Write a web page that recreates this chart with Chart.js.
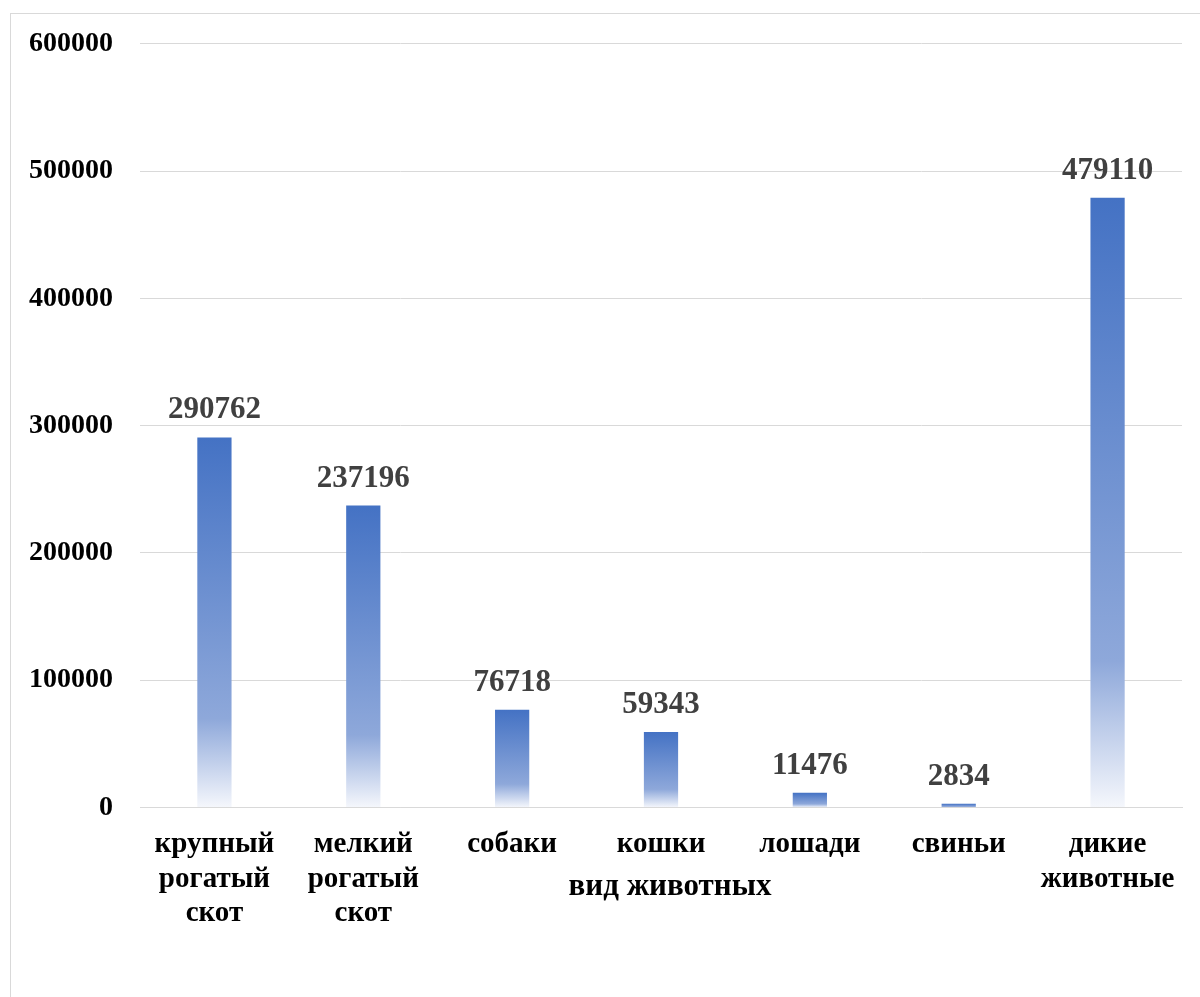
<!DOCTYPE html>
<html lang="ru">
<head>
    <meta charset="UTF-8">
    <title>Вид животных</title>
    <script src="https://cdn.jsdelivr.net/npm/chart.js@4"></script>
    <style>
        body {
            margin: 0;
            background-color: #fff;
            overflow: hidden;
        }

        .frame {
            position: absolute;
            left: 10px;
            top: 13px;
            width: 1200px;
            height: 1000px;
            border: 1px solid #d9d9d9;
        }

        .chart-container {
            position: absolute;
            left: 0;
            top: 0;
            width: 1200px;
            height: 997px;
        }
    </style>
</head>
<body>
    <div class="frame"></div>
    <div class="chart-container">
        <canvas id="myChart"></canvas>
    </div>
    <script>
        const categories = [
            ['крупный', 'рогатый', 'скот'],
            ['мелкий', 'рогатый', 'скот'],
            'собаки',
            'кошки',
            'лошади',
            'свиньи',
            ['дикие', 'животные']
        ];
        const counts = [290762, 237196, 76718, 59343, 11476, 2834, 479110];
        const axisTitle = 'вид животных';

        const serif = '"Liberation Serif", "Times New Roman", serif';

        // each bar fades from solid blue at its top to near white at the base
        function barGradient(context) {
            const chart = context.chart;
            if (!chart.chartArea || !chart.scales.y) return '#4472C4';
            const y = chart.scales.y;
            const top = y.getPixelForValue(context.raw);
            const bottom = y.getPixelForValue(0);
            if (bottom - top < 1) return '#4472C4';
            const g = chart.ctx.createLinearGradient(0, top, 0, bottom);
            g.addColorStop(0, '#4472C4');
            g.addColorStop(0.76, '#8EA8DA');
            g.addColorStop(1, '#F5F7FC');
            return g;
        }

        const valueLabels = {
            id: 'valueLabels',
            afterDatasetsDraw(chart) {
                const ctx = chart.ctx;
                const meta = chart.getDatasetMeta(0);
                ctx.save();
                ctx.font = 'bold 31px ' + serif;
                ctx.fillStyle = '#404040';
                ctx.textAlign = 'center';
                ctx.textBaseline = 'alphabetic';
                meta.data.forEach((bar, i) => {
                    ctx.fillText(String(counts[i]), bar.x, bar.y - 19);
                });
                ctx.restore();
            }
        };

        // axis title sits right over the second row of category labels
        const xTitle = {
            id: 'xTitle',
            afterDraw(chart) {
                const ctx = chart.ctx;
                const area = chart.chartArea;
                ctx.save();
                ctx.font = 'bold 31px ' + serif;
                ctx.fillStyle = '#000';
                ctx.textAlign = 'center';
                ctx.textBaseline = 'alphabetic';
                ctx.fillText(axisTitle, (area.left + area.right) / 2 + 9, area.bottom + 88);
                ctx.restore();
            }
        };

        const ctx = document.getElementById('myChart').getContext('2d');
        new Chart(ctx, {
            type: 'bar',
            data: {
                labels: categories,
                datasets: [{
                    data: counts,
                    backgroundColor: barGradient,
                    borderWidth: 0,
                    barPercentage: 0.46,
                    categoryPercentage: 0.5
                }]
            },
            options: {
                responsive: true,
                maintainAspectRatio: false,
                animation: false,
                layout: {
                    padding: { left: 2, right: 18, top: 29, bottom: 54 }
                },
                plugins: {
                    legend: { display: false },
                    tooltip: { enabled: false }
                },
                scales: {
                    x: {
                        grid: { display: false },
                        border: { color: '#d9d9d9', width: 1 },
                        ticks: {
                            color: '#000',
                            padding: 12,
                            maxRotation: 0,
                            autoSkip: false,
                            font: { family: serif, size: 29, weight: 'bold', lineHeight: 1.19 }
                        }
                    },
                    y: {
                        min: 0,
                        max: 600000,
                        grid: { color: '#d9d9d9', lineWidth: 1, drawTicks: false },
                        border: { display: false },
                        ticks: {
                            stepSize: 100000,
                            color: '#000',
                            padding: 27,
                            font: { family: serif, size: 28, weight: 'bold' },
                            callback: (v) => String(v)
                        }
                    }
                }
            },
            plugins: [valueLabels, xTitle]
        });
    </script>
</body>
</html>
